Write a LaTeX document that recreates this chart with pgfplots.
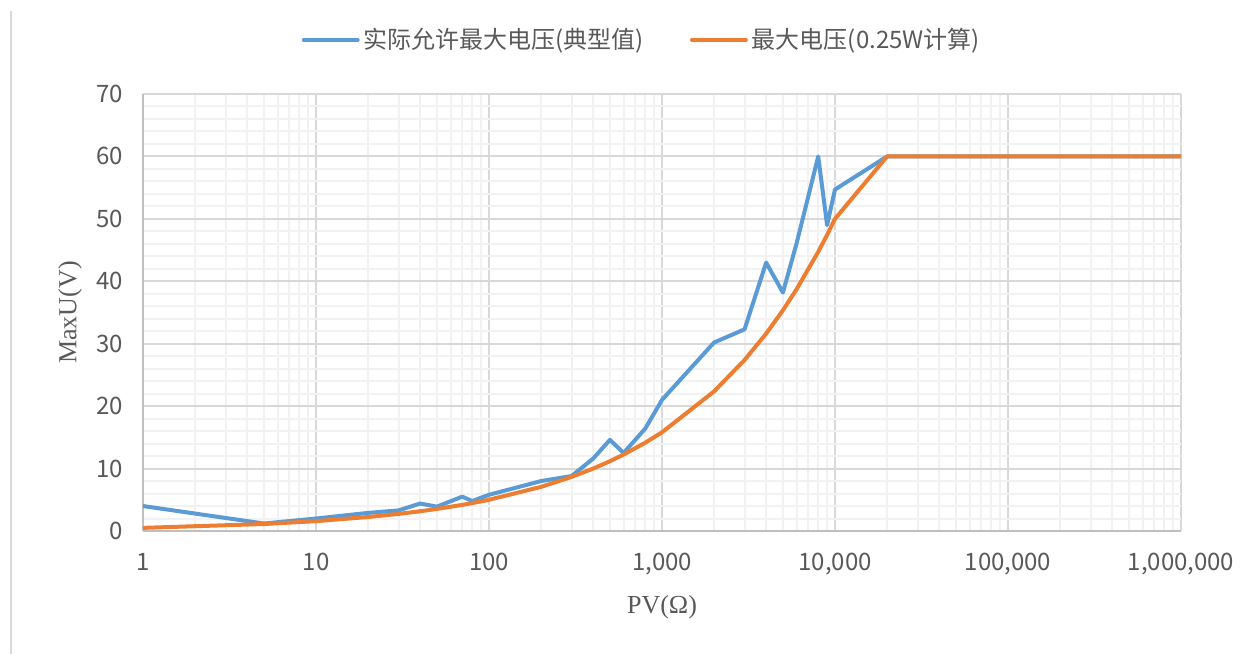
\documentclass[border=0pt]{standalone}
\usepackage{fontspec}
\setmainfont{Liberation Serif}
\newfontfamily\cjk{Noto Sans CJK SC}
\usepackage{pgfplots}
\pgfplotsset{compat=1.18}
\definecolor{xlblue}{HTML}{5B9BD5}
\definecolor{xlorange}{HTML}{ED7D31}
\definecolor{txtgray}{HTML}{595959}
\definecolor{majgrid}{HTML}{D9D9D9}
\definecolor{mingrid}{HTML}{F2F2F2}
\definecolor{axgray}{HTML}{BFBFBF}

\begin{document}
\begin{tikzpicture}
\useasboundingbox (-71.5pt,-61.5pt) rectangle (552.5pt,265.5pt);
\draw[majgrid, line width=1pt] (-66pt,260pt) -- (-66pt,-61.5pt);
\begin{axis}[
    at={(0pt,0pt)}, anchor=origin,
    scale only axis,
    width=519pt, height=218.5pt,
    xmode=log,
    xmin=1, xmax=1000000,
    ymin=0, ymax=70,
    xtick={1,10,100,1000,10000,100000,1000000},
    xticklabels={1,10,100,{1,000},{10,000},{100,000},{1,000,000}},
    minor xtick={2,3,4,5,6,7,8,9,20,30,40,50,60,70,80,90,
        200,300,400,500,600,700,800,900,
        2000,3000,4000,5000,6000,7000,8000,9000,
        20000,30000,40000,50000,60000,70000,80000,90000,
        200000,300000,400000,500000,600000,700000,800000,900000},
    ytick={0,10,20,30,40,50,60,70},
    minor y tick num=4,
    major tick length=0pt, minor tick length=0pt,
    xmajorgrids, xminorgrids, ymajorgrids, yminorgrids,
    major grid style={majgrid, line width=1pt},
    minor grid style={mingrid, line width=1pt},
    axis lines*=left,
    axis line style={axgray, line width=1pt, -},
    /pgf/number format/assume math mode=true,
    tick label style={font=\cjk\fontsize{12pt}{14pt}\selectfont, text=txtgray},
    xticklabel style={yshift=-7.5pt},
    yticklabel style={xshift=-6.5pt},
    xlabel={PV(Ω)},
    ylabel={MaxU(V)},
    label style={font=\fontsize{13pt}{15pt}\selectfont, text=txtgray},
    xlabel style={at={(axis description cs:0.5,-0.174)}, anchor=center},
    ylabel style={at={(axis description cs:-0.0703,0.5)}, anchor=center},
    legend columns=2,
    legend style={draw=none, fill=none,
        at={(axis description cs:0.4815,1.1236)}, anchor=center,
        font=\cjk\fontsize{12pt}{14pt}\selectfont, text=txtgray,
        /tikz/every even column/.append style={column sep=21pt}},
    legend image code/.code={\draw[#1, line cap=round] (0pt,0pt) -- (27pt,0pt);},
]
\addplot[xlblue, line width=2pt, line join=round] coordinates {
    (1,4.0) (5,1.2) (10,2.0) (20,2.9) (30,3.3) (40,4.4) (50,3.9)
    (70,5.5) (80,4.8) (100,5.8) (200,8.0) (300,8.8) (400,11.6)
    (500,14.6) (600,12.5) (800,16.4) (1000,21.0) (2000,30.2)
    (3000,32.3) (4000,43.0) (5000,38.2) (6000,46.1) (8000,60)
    (9000,49.0) (10000,54.7) (20000,60) (1000000,60)
};
\addlegendentry{实际允许最大电压(典型值)}
\addplot[xlorange, line width=2pt, line join=round] coordinates {
    (1,0.5) (5,1.12) (10,1.58) (20,2.24) (30,2.74) (40,3.16) (50,3.54)
    (70,4.18) (80,4.47) (100,5.0) (200,7.07) (300,8.66) (400,10.0)
    (500,11.18) (600,12.25) (800,14.14) (1000,15.81) (2000,22.36)
    (3000,27.39) (4000,31.62) (5000,35.36) (6000,38.73) (8000,44.72)
    (9000,47.43) (10000,50.0) (20000,60) (1000000,60)
};
\addlegendentry{最大电压(0.25W计算)}
\end{axis}
\end{tikzpicture}
\end{document}
